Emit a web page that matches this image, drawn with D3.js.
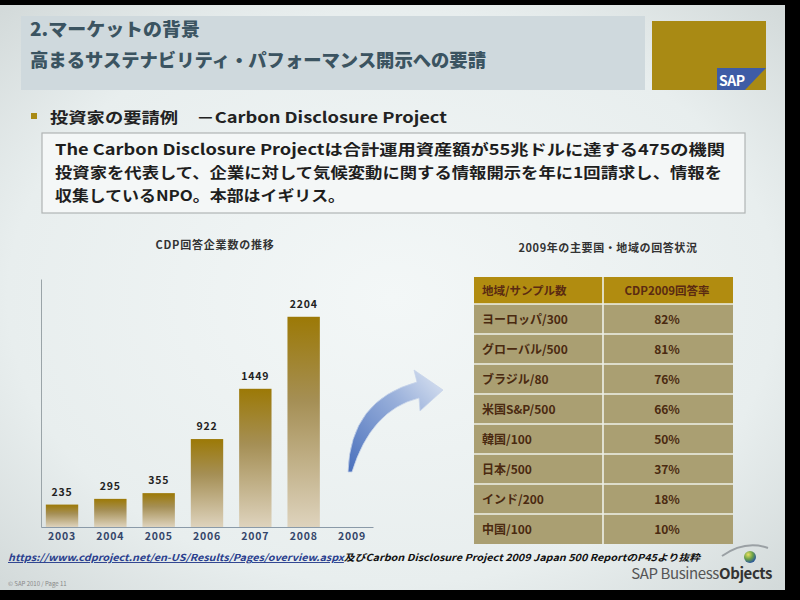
<!DOCTYPE html>
<html lang="ja">
<head>
<meta charset="utf-8">
<title>CDP</title>
<script src="https://d3js.org/d3.v7.min.js"></script>
<style>
  body { margin: 0; background: #000; }
  svg { display: block; }
  text { font-family: "Noto Sans CJK JP", "DejaVu Sans", sans-serif; }
</style>
</head>
<body>
<div id="slide"></div>
<script>
// ---- data ----
var years = ["2003", "2004", "2005", "2006", "2007", "2008", "2009"];
var counts = [235, 295, 355, 922, 1449, 2204, null];
var regions = ["ヨーロッパ/300", "グローバル/500", "ブラジル/80", "米国S&P/500", "韓国/100", "日本/500", "インド/200", "中国/100"];
var rates = [82, 81, 76, 66, 50, 37, 18, 10];
var tableHead = ["地域/サンプル数", "CDP2009回答率"];

var W = 800, H = 600;
var svg = d3.select("#slide").append("svg")
    .attr("width", W).attr("height", H);

var defs = svg.append("defs");

// slide background with a little vignette like the photo
var bg = defs.append("radialGradient").attr("id", "bg")
    .attr("cx", "50%").attr("cy", "50%").attr("r", "70%");
bg.append("stop").attr("offset", "0%").attr("stop-color", "#f3f7f7");
bg.append("stop").attr("offset", "70%").attr("stop-color", "#e8eeee");
bg.append("stop").attr("offset", "100%").attr("stop-color", "#d3dada");

var barGrad = defs.append("linearGradient").attr("id", "barGrad")
    .attr("x1", 0).attr("y1", 0).attr("x2", 0).attr("y2", 1);
barGrad.append("stop").attr("offset", "0%").attr("stop-color", "#9c7906");
barGrad.append("stop").attr("offset", "40%").attr("stop-color", "#a58f55");
barGrad.append("stop").attr("offset", "100%").attr("stop-color", "#ded3bd");

var arrowGrad = defs.append("linearGradient").attr("id", "arrowGrad")
    .attr("x1", 0).attr("y1", 1).attr("x2", 1).attr("y2", 0);
arrowGrad.append("stop").attr("offset", "0%").attr("stop-color", "#4a70bc");
arrowGrad.append("stop").attr("offset", "60%").attr("stop-color", "#98afda");
arrowGrad.append("stop").attr("offset", "100%").attr("stop-color", "#dfe7f3");

var ballGrad = defs.append("radialGradient").attr("id", "ballGrad")
    .attr("cx", "35%").attr("cy", "30%").attr("r", "70%");
ballGrad.append("stop").attr("offset", "0%").attr("stop-color", "#e8e060");
ballGrad.append("stop").attr("offset", "55%").attr("stop-color", "#6aa048");
ballGrad.append("stop").attr("offset", "100%").attr("stop-color", "#2c5a9a");

svg.append("rect").attr("x", 0).attr("y", 5).attr("width", 785).attr("height", 585)
    .attr("fill", "url(#bg)");

// ---- header ----
svg.append("rect").attr("x", 21).attr("y", 16).attr("width", 624).attr("height", 74)
    .attr("fill", "#cfd9dd");
svg.append("text").attr("x", 30).attr("y", 36)
    .attr("font-size", 18).attr("font-weight", 900).attr("fill", "#3b5461")
    .attr("textLength", 170).attr("lengthAdjust", "spacingAndGlyphs")
    .text("2.マーケットの背景");
svg.append("text").attr("x", 30).attr("y", 67)
    .attr("font-size", 18).attr("font-weight", 900).attr("fill", "#3b5461")
    .attr("textLength", 456).attr("lengthAdjust", "spacingAndGlyphs")
    .text("高まるサステナビリティ・パフォーマンス開示への要請");

svg.append("rect").attr("x", 652).attr("y", 21).attr("width", 114).attr("height", 69)
    .attr("fill", "#a98a14");
svg.append("polygon").attr("points", "717,68 766,68 745,90 717,90")
    .attr("fill", "#3e5ca6");
svg.append("text").attr("x", 719).attr("y", 86)
    .attr("font-size", 14).attr("font-weight", "bold").attr("fill", "#fff")
    .attr("font-family", "Liberation Sans").attr("letter-spacing", -0.5)
    .text("SAP");

// ---- bullet + text box ----
svg.append("rect").attr("x", 31).attr("y", 113).attr("width", 6).attr("height", 6)
    .attr("fill", "#a98a14");
svg.append("text").attr("x", 50).attr("y", 123)
    .attr("font-size", 15).attr("font-weight", "bold").attr("fill", "#222")
    .attr("textLength", 397).attr("lengthAdjust", "spacingAndGlyphs")
    .text("投資家の要請例　－Carbon Disclosure Project");

svg.append("rect").attr("x", 42).attr("y", 133).attr("width", 703).attr("height", 80)
    .attr("fill", "#f4f7f7").attr("stroke", "#b0b4b4").attr("stroke-width", 1.2);

var para = [
    { t: "The Carbon Disclosure Projectは合計運用資産額が55兆ドルに達する475の機関", w: 670 },
    { t: "投資家を代表して、企業に対して気候変動に関する情報開示を年に1回請求し、情報を", w: 667 },
    { t: "収集しているNPO。本部はイギリス。", w: 290 }
];
svg.selectAll(".para").data(para).enter().append("text")
    .attr("class", "para")
    .attr("x", 55).attr("y", function(d, i) { return 155 + i * 23; })
    .attr("font-size", 15).attr("font-weight", "bold").attr("fill", "#1e1e1e")
    .attr("textLength", function(d) { return d.w; })
    .attr("lengthAdjust", "spacingAndGlyphs")
    .text(function(d) { return d.t; });

// ---- bar chart ----
svg.append("text").attr("x", 215).attr("y", 249).attr("text-anchor", "middle")
    .attr("font-size", 11).attr("font-weight", "bold").attr("fill", "#333")
    .attr("letter-spacing", 0.8)
    .text("CDP回答企業数の推移");

var x = d3.scaleBand().domain(years).range([41, 373])
    .paddingInner(0.33).paddingOuter(0.1);
var y = d3.scaleLinear().domain([0, 2600]).range([527, 279]);

var chart = svg.append("g");

chart.append("g").attr("transform", "translate(41,0)")
    .call(d3.axisLeft(y).ticks(0).tickSize(0))
    .call(function(g) { g.select(".domain").attr("stroke", "#9aa4a8"); });

var xAxis = chart.append("g").attr("transform", "translate(0,527)")
    .call(d3.axisBottom(x).tickSize(0).tickPadding(6));
xAxis.select(".domain").attr("stroke", "#8a9aa8").attr("stroke-width", 1.2);
xAxis.selectAll("text")
    .attr("font-family", "DejaVu Sans").attr("font-size", 10.5).attr("font-weight", "bold")
    .attr("fill", "#34466a").attr("letter-spacing", 0.8);

var barData = years.map(function(yr, i) { return { year: yr, v: counts[i] }; })
    .filter(function(d) { return d.v != null; });

chart.selectAll(".bar").data(barData).enter().append("rect")
    .attr("class", "bar")
    .attr("x", function(d) { return x(d.year); })
    .attr("y", function(d) { return y(d.v); })
    .attr("width", x.bandwidth())
    .attr("height", function(d) { return y(0) - y(d.v); })
    .attr("fill", "url(#barGrad)");

chart.selectAll(".val").data(barData).enter().append("text")
    .attr("class", "val")
    .attr("x", function(d) { return x(d.year) + x.bandwidth() / 2; })
    .attr("y", function(d) { return y(d.v) - 9; })
    .attr("text-anchor", "middle")
    .attr("font-family", "DejaVu Sans").attr("font-size", 10.5).attr("font-weight", "bold")
    .attr("fill", "#222").attr("letter-spacing", 0.8)
    .text(function(d) { return d.v; });

// ---- curved arrow ----
svg.append("path")
    .attr("d", "M348,472 Q350,400 417,382 L414,370 L443,390 L420,411 L419,398 Q371,410 352,472 Z")
    .attr("fill", "url(#arrowGrad)")
    .attr("stroke", "#c8d4ea").attr("stroke-width", 0.8);

// ---- table ----
svg.append("text").attr("x", 608).attr("y", 252).attr("text-anchor", "middle")
    .attr("font-size", 11).attr("font-weight", "bold").attr("fill", "#333")
    .attr("letter-spacing", 0.6)
    .text("2009年の主要国・地域の回答状況");

var tx0 = 474, tx1 = 603, tx2 = 733;
var rowY = d3.scaleBand().domain(regions).range([304, 544]);
var tbl = svg.append("g");

tbl.append("rect").attr("x", tx0).attr("y", 277).attr("width", tx2 - tx0).attr("height", 27)
    .attr("fill", "#b18c10");
tbl.append("text").attr("x", 482).attr("y", 295)
    .attr("font-size", 11.5).attr("font-weight", "bold").attr("fill", "#5a2a12")
    .text(tableHead[0]);
tbl.append("text").attr("x", 667).attr("y", 295).attr("text-anchor", "middle")
    .attr("font-size", 11.5).attr("font-weight", "bold").attr("fill", "#5a2a12")
    .text(tableHead[1]);

var rows = tbl.selectAll(".row").data(regions).enter().append("g")
    .attr("class", "row")
    .attr("transform", function(d) { return "translate(0," + rowY(d) + ")"; });
rows.append("rect").attr("x", tx0).attr("y", 0)
    .attr("width", tx2 - tx0).attr("height", rowY.bandwidth())
    .attr("fill", "#aa9f72");
rows.append("text").attr("x", 482).attr("y", rowY.bandwidth() / 2 + 4.5)
    .attr("font-size", 12).attr("font-weight", "bold").attr("fill", "#4a2a10")
    .text(function(d) { return d; });
rows.append("text").attr("x", 667).attr("y", rowY.bandwidth() / 2 + 4.5)
    .attr("text-anchor", "middle")
    .attr("font-size", 12).attr("font-weight", "bold").attr("fill", "#4a2a10")
    .text(function(d, i) { return rates[i] + "%"; });

// grid lines of the table
tbl.selectAll(".hline").data(regions).enter().append("line")
    .attr("x1", tx0).attr("x2", tx2)
    .attr("y1", function(d) { return rowY(d); })
    .attr("y2", function(d) { return rowY(d); })
    .attr("stroke", "#eef0e8").attr("stroke-width", 1.6);
tbl.append("line").attr("x1", tx1).attr("x2", tx1).attr("y1", 277).attr("y2", 544)
    .attr("stroke", "#eef0e8").attr("stroke-width", 1.6);

// ---- footer ----
var src = svg.append("text").attr("x", 8).attr("y", 561)
    .attr("font-size", 9.5).attr("font-weight", "bold").attr("font-style", "italic")
    .attr("textLength", 692).attr("lengthAdjust", "spacingAndGlyphs");
src.append("tspan").attr("fill", "#2a3f8e").attr("text-decoration", "underline")
    .text("https://www.cdproject.net/en-US/Results/Pages/overview.aspx");
src.append("tspan").attr("fill", "#111")
    .text("及びCarbon Disclosure Project 2009 Japan 500 ReportのP45より抜粋");

svg.append("text").attr("x", 8).attr("y", 586)
    .attr("font-size", 6).attr("fill", "#888").attr("font-family", "Liberation Sans")
    .text("© SAP 2010 / Page 11");

var bo = svg.append("text").attr("x", 772).attr("y", 579).attr("text-anchor", "end")
    .attr("font-size", 15).attr("fill", "#555").attr("font-family", "Liberation Sans")
    .attr("letter-spacing", -0.4);
bo.append("tspan").text("SAP Business");
bo.append("tspan").attr("font-weight", "bold").attr("fill", "#333").text("Objects");

svg.append("path").attr("d", "M722,556 Q745,540 768,548")
    .attr("fill", "none").attr("stroke", "#9aa0a4").attr("stroke-width", 2);
svg.append("circle").attr("cx", 750).attr("cy", 557).attr("r", 6)
    .attr("fill", "url(#ballGrad)");
</script>
</body>
</html>
